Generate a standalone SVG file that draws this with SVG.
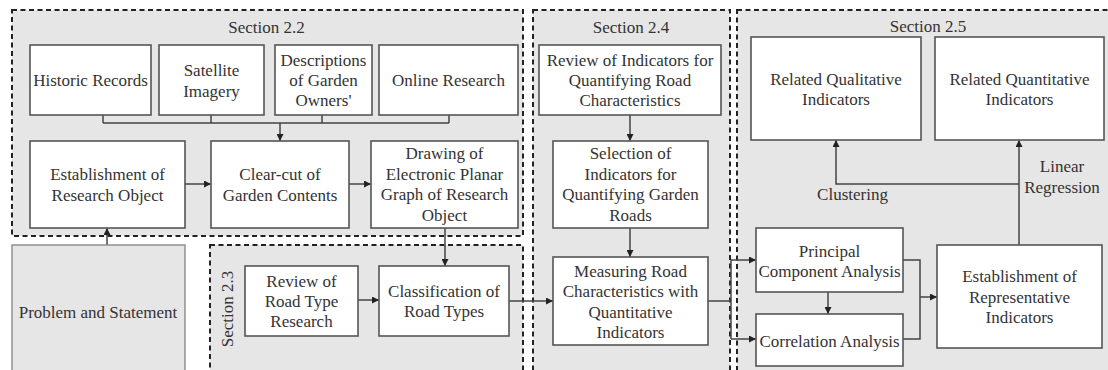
<svg xmlns="http://www.w3.org/2000/svg" width="1108" height="370" viewBox="0 0 1108 370">
  <defs>
    <marker id="arrow" viewBox="0 0 10 10" refX="10" refY="5" markerWidth="7" markerHeight="7" markerUnits="userSpaceOnUse" orient="auto">
      <path d="M0,0 L10,5 L0,10 z" fill="#222"/>
    </marker>
    <style>
      .section { fill: #e6e6e6; stroke: #222; stroke-width: 2; stroke-dasharray: 5 3.5; }
      .box { fill: #ffffff; stroke: #555; stroke-width: 1.6; }
      .box-gray { fill: #e6e6e6; stroke: #8a8a8a; stroke-width: 1.4; }
      text { font-family: "Liberation Serif", "Times New Roman", serif; font-size: 17px; fill: #333; text-anchor: middle; }
      .conn { fill: none; stroke: #444; stroke-width: 1.5; }
      .conn-arrow { fill: none; stroke: #444; stroke-width: 1.5; marker-end: url(#arrow); }
    </style>
  </defs>

  <rect width="1108" height="370" fill="#ffffff"/>

  <!-- Section frames -->
  <g id="section-2-2">
    <rect class="section" x="12" y="10" width="511" height="226"/>
    <text x="266.5" y="33">Section 2.2</text>
  </g>
  <g id="section-2-3">
    <rect class="section" x="210" y="245" width="313" height="135"/>
    <text transform="translate(233,309) rotate(-90)">Section 2.3</text>
  </g>
  <g id="section-2-4">
    <rect class="section" x="533" y="10" width="197" height="370"/>
    <text x="631" y="33">Section 2.4</text>
  </g>
  <g id="section-2-5">
    <rect class="section" x="737" y="10" width="380" height="370"/>
    <text x="928" y="32">Section 2.5</text>
  </g>

  <!-- Connectors -->
  <g id="connectors">
    <path class="conn" d="M103,115 V123 M211,115 V123 M322,115 V123 M449,115 V123 M103,123 H449"/>
    <path class="conn-arrow" d="M280,123 V141"/>
    <path class="conn-arrow" d="M185,184 H211"/>
    <path class="conn-arrow" d="M349,184 H371"/>
    <path class="conn-arrow" d="M107,245 V228"/>
    <path class="conn-arrow" d="M445,228 V266"/>
    <path class="conn-arrow" d="M358,300 H379"/>
    <path class="conn-arrow" d="M509,301 H553"/>
    <path class="conn-arrow" d="M630,115 V141"/>
    <path class="conn-arrow" d="M630,228 V257"/>
    <path class="conn" d="M708,301 H731 M731,260 V339"/>
    <path class="conn-arrow" d="M731,260 H756"/>
    <path class="conn-arrow" d="M731,339 H756"/>
    <path class="conn-arrow" d="M828,292 V314"/>
    <path class="conn" d="M903,260 H920 V339 H903"/>
    <path class="conn-arrow" d="M920,297 H937"/>
    <path class="conn-arrow" d="M1019,245 V140"/>
    <path class="conn-arrow" d="M1019,184 H836 V140"/>
    <text x="852.5" y="200">Clustering</text>
    <text x="1062" y="172">Linear</text>
    <text x="1062" y="193">Regression</text>
  </g>

  <!-- Section 2.2 nodes -->
  <g id="historic-records">
    <rect class="box" x="30" y="45" width="121" height="70"/>
    <text x="90.5" y="86">Historic Records</text>
  </g>
  <g id="satellite-imagery">
    <rect class="box" x="159" y="45" width="105" height="70"/>
    <text x="211.5" y="76">Satellite</text>
    <text x="211.5" y="97">Imagery</text>
  </g>
  <g id="descriptions">
    <rect class="box" x="275" y="45" width="97" height="70"/>
    <text x="323.5" y="66">Descriptions</text>
    <text x="323.5" y="86">of Garden</text>
    <text x="323.5" y="106">Owners'</text>
  </g>
  <g id="online-research">
    <rect class="box" x="379" y="45" width="139" height="70"/>
    <text x="448.5" y="86">Online Research</text>
  </g>
  <g id="establishment-research-object">
    <rect class="box" x="30" y="141" width="155" height="87"/>
    <text x="107.5" y="180">Establishment of</text>
    <text x="107.5" y="201">Research Object</text>
  </g>
  <g id="clear-cut">
    <rect class="box" x="211" y="141" width="138" height="87"/>
    <text x="280" y="180">Clear-cut of</text>
    <text x="280" y="201">Garden Contents</text>
  </g>
  <g id="drawing-planar-graph">
    <rect class="box" x="371" y="141" width="147" height="87"/>
    <text x="444.5" y="159">Drawing of</text>
    <text x="444.5" y="180">Electronic Planar</text>
    <text x="444.5" y="200">Graph of Research</text>
    <text x="444.5" y="221">Object</text>
  </g>

  <!-- Problem statement -->
  <g id="problem-statement">
    <rect class="box-gray" x="12" y="245" width="173" height="135"/>
    <text x="98" y="318">Problem and Statement</text>
  </g>

  <!-- Section 2.3 nodes -->
  <g id="review-road-type">
    <rect class="box" x="245" y="266" width="113" height="70"/>
    <text x="301.5" y="287">Review of</text>
    <text x="301.5" y="307">Road Type</text>
    <text x="301.5" y="327">Research</text>
  </g>
  <g id="classification-road-types">
    <rect class="box" x="379" y="266" width="130" height="70"/>
    <text x="444" y="297">Classification of</text>
    <text x="444" y="317">Road Types</text>
  </g>

  <!-- Section 2.4 nodes -->
  <g id="review-indicators">
    <rect class="box" x="539" y="45" width="182" height="70"/>
    <text x="630" y="66">Review of Indicators for</text>
    <text x="630" y="86">Quantifying Road</text>
    <text x="630" y="106">Characteristics</text>
  </g>
  <g id="selection-indicators">
    <rect class="box" x="553" y="141" width="155" height="87"/>
    <text x="630.5" y="159">Selection of</text>
    <text x="630.5" y="180">Indicators for</text>
    <text x="630.5" y="200">Quantifying Garden</text>
    <text x="630.5" y="221">Roads</text>
  </g>
  <g id="measuring-road">
    <rect class="box" x="553" y="257" width="155" height="88"/>
    <text x="630.5" y="277">Measuring Road</text>
    <text x="630.5" y="297">Characteristics with</text>
    <text x="630.5" y="318">Quantitative</text>
    <text x="630.5" y="338">Indicators</text>
  </g>

  <!-- Section 2.5 nodes -->
  <g id="related-qualitative">
    <rect class="box" x="751" y="37" width="170" height="103"/>
    <text x="836" y="85">Related Qualitative</text>
    <text x="836" y="105">Indicators</text>
  </g>
  <g id="related-quantitative">
    <rect class="box" x="935" y="37" width="169" height="103"/>
    <text x="1019.5" y="85">Related Quantitative</text>
    <text x="1019.5" y="105">Indicators</text>
  </g>
  <g id="pca">
    <rect class="box" x="756" y="228" width="147" height="64"/>
    <text x="829.5" y="257">Principal</text>
    <text x="829.5" y="277">Component Analysis</text>
  </g>
  <g id="correlation-analysis">
    <rect class="box" x="756" y="314" width="147" height="52"/>
    <text x="829.5" y="347">Correlation Analysis</text>
  </g>
  <g id="representative-indicators">
    <rect class="box" x="937" y="245" width="165" height="103"/>
    <text x="1019.5" y="282">Establishment of</text>
    <text x="1019.5" y="303">Representative</text>
    <text x="1019.5" y="323">Indicators</text>
  </g>
</svg>
